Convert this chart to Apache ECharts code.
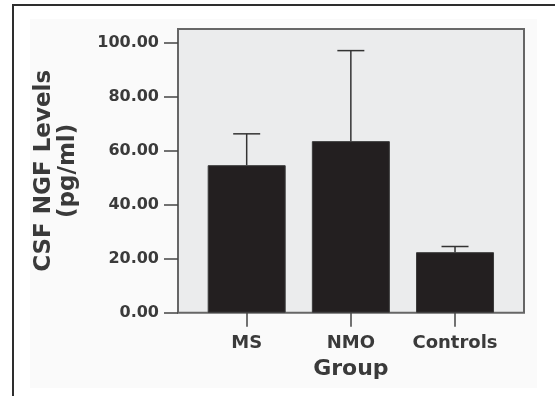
<!DOCTYPE html>
<html>
<head>
<meta charset="utf-8">
<script src="https://cdn.jsdelivr.net/npm/echarts@6/dist/echarts.min.js"></script>
<style>
  html, body { margin: 0; padding: 0; background: #ffffff; }
  #chart { width: 555px; height: 396px; }
</style>
</head>
<body>
<div id="chart"></div>
<script>
// CSF NGF levels by patient group (mean with upper error bar)
const groups = ['MS', 'NMO', 'Controls'];
const meanLevels = [54.6, 63.5, 22.4];
const upperLevels = [66.2, 97.0, 24.5];
const yTicks = [0, 20, 40, 60, 80, 100];
const yMax = 105;

const FONT = '"DejaVu Sans", Verdana, sans-serif';
const TEXT = '#3a3a3a';

const chart = echarts.init(document.getElementById('chart'), null, { renderer: 'canvas' });

const errorData = groups.map((g, i) => [i, meanLevels[i], upperLevels[i]]);

chart.setOption({
  animation: false,
  backgroundColor: '#ffffff',
  graphic: [
    // outer figure frame
    {
      type: 'rect', z: -10, silent: true,
      shape: { x: 13, y: 5, width: 620, height: 460 },
      style: { fill: '#ffffff', stroke: '#2e2e2e', lineWidth: 2 }
    },
    {
      type: 'rect', z: -9, silent: true,
      shape: { x: 30, y: 19, width: 507, height: 369 },
      style: { fill: '#fafafa' }
    }
  ],
  grid: [
    {
      // framed plot panel with the value scale
      left: 178, top: 29, right: 31, bottom: 83.3,
      show: true, backgroundColor: '#ebeced',
      borderColor: '#666666', borderWidth: 2
    },
    {
      // band layout for the three groups
      left: 194.6, top: 29, right: 47.9, bottom: 83.3
    }
  ],
  xAxis: [
    { type: 'value', gridIndex: 0, show: false, min: 0, max: 1 },
    {
      type: 'category', gridIndex: 1, data: groups,
      axisLine: { show: false },
      axisTick: { show: true, alignWithLabel: true, length: 14, lineStyle: { color: '#444', width: 1.5 } },
      axisLabel: { interval: 0, margin: 22, fontFamily: FONT, fontWeight: 'bold', fontSize: 18, color: TEXT },
      name: 'Group', nameLocation: 'middle', nameGap: 46,
      nameTextStyle: { fontFamily: FONT, fontWeight: 'bold', fontSize: 22, color: TEXT }
    }
  ],
  yAxis: [
    {
      type: 'value', gridIndex: 0, min: 0, max: yMax,
      splitLine: { show: false },
      axisLine: { show: false },
      axisTick: { show: true, length: 14, customValues: yTicks, lineStyle: { color: '#444', width: 1.5 } },
      axisLabel: {
        margin: 19, customValues: yTicks,
        formatter: v => v.toFixed(2),
        fontFamily: FONT, fontWeight: 'bold', fontSize: 16, color: TEXT
      },
      name: 'CSF NGF Levels\n(pg/ml)', nameLocation: 'middle', nameRotate: 90, nameGap: 98,
      nameTextStyle: { fontFamily: FONT, fontWeight: 'bold', fontSize: 23, lineHeight: 24, color: TEXT, align: 'center' }
    },
    { type: 'value', gridIndex: 1, min: 0, max: yMax, show: false }
  ],
  series: [
    {
      type: 'bar', xAxisIndex: 1, yAxisIndex: 1,
      data: meanLevels, barWidth: 78,
      itemStyle: { color: '#231f20', borderColor: '#3a3a3a', borderWidth: 1 },
      z: 2
    },
    {
      type: 'custom', xAxisIndex: 1, yAxisIndex: 1,
      data: errorData, z: 3,
      renderItem: (params, api) => {
        const base = api.coord([api.value(0), api.value(1)]);
        const top = api.coord([api.value(0), api.value(2)]);
        const half = 13.5;
        const style = { stroke: '#333333', lineWidth: 1.5 };
        return {
          type: 'group',
          children: [
            { type: 'line', shape: { x1: base[0], y1: base[1], x2: top[0], y2: top[1] }, style },
            { type: 'line', shape: { x1: top[0] - half, y1: top[1], x2: top[0] + half, y2: top[1] }, style }
          ]
        };
      }
    }
  ]
});
</script>
</body>
</html>
